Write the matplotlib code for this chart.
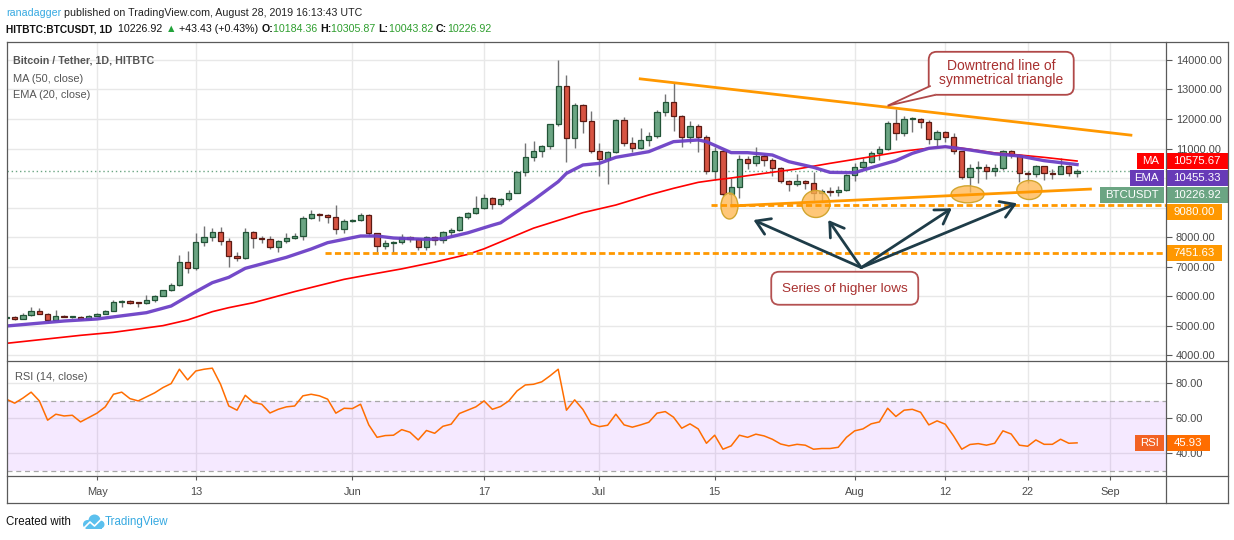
import matplotlib
matplotlib.use('Agg')
import matplotlib.pyplot as plt
import matplotlib.dates as mdates
from matplotlib.patches import Ellipse, FancyBboxPatch, Polygon, FancyArrowPatch, Rectangle, Circle
import numpy as np
import pandas as pd

plt.rcParams['font.family'] = ['Liberation Sans', 'DejaVu Sans']

# ---------------- data ----------------
dates = pd.date_range('2019-04-20', '2019-08-28', freq='D')
open_ = [5260, 5288, 5232, 5345, 5480, 5401, 5198, 5311, 5295, 5305, 5232,
         5322, 5390, 5491, 5785, 5819, 5774, 5751, 5853, 6000, 6203, 6361, 7142, 6960, 7819, 8011, 8181, 7876, 7356, 7277,
         8158, 7955, 7921, 7650, 7853, 7955, 8023, 8633, 8780, 8746, 8667, 8260,
         8554, 8576, 8746, 8124, 7684, 7785, 7819, 7989, 7921, 7650, 7989, 7887, 8158, 8226, 8667, 8825, 8972, 9311, 9108, 9277,
         9503, 10192, 10723, 10904, 11085, 11819, 13119, 11345, 12475, 11944,
         10915, 10633, 10870, 11966, 11175, 11006, 11288, 11424, 12248, 12565, 12113, 11379, 11774, 11401, 10238, 10915, 9446, 9684,
         10633, 10520, 10746, 10610, 10350, 9887, 9797, 9887, 9842, 9480, 9548, 9514, 9593,
         10102, 10384, 10531, 10836, 10972, 11853, 11514, 11989, 11999, 11887, 11311, 11548, 11401, 10915, 10046, 10328, 10384, 10249,
         10339, 10926, 10780, 10158, 10136, 10407, 10158, 10140, 10407, 10184.36]
high = [5300, 5310, 5420, 5627, 5600, 5440, 5520, 5340, 5330, 5330, 5350,
        5420, 5530, 5870, 5880, 5850, 5790, 6020, 6020, 6220, 6430, 7400, 7525, 8135, 8373, 8290, 8339, 7950, 7480, 8320,
        8200, 8050, 8020, 7900, 8140, 8120, 8720, 8920, 8830, 8790, 9085, 8620,
        8620, 8800, 8790, 8130, 7900, 7870, 8100, 8050, 7950, 8050, 8030, 8220, 8320, 8700, 8860, 9390, 9450, 9340, 9320, 9580,
        10230, 11175, 11250, 11130, 11820, 13999, 13492, 12554, 12500, 12271,
        11180, 10900, 12010, 12080, 11380, 11684, 11570, 12320, 12836, 13209, 12150, 11930, 11830, 11470, 11050, 11000, 9989, 10780,
        10740, 11060, 10800, 10680, 10360, 9940, 10140, 9920, 10215, 9620, 9700, 9720, 10120,
        10500, 10680, 10930, 11090, 11930, 12328, 12100, 12080, 12050, 11960, 11620, 11600, 11520, 10930, 10480, 10577, 10460,
        10480, 10950, 10950, 10800, 10250, 10450, 10420, 10320, 10667, 10440, 10305.87]
low = [5230, 5200, 5220, 5330, 5380, 5120, 5180, 5280, 5270, 5200, 5220,
       5310, 5380, 5480, 5640, 5740, 5620, 5740, 5780, 5990, 6180, 6350, 6790, 6880, 7706, 7860, 7730, 6970, 7200, 7250,
       7616, 7800, 7600, 7500, 7800, 7930, 7900, 8600, 8550, 8460, 8090, 8150,
       8500, 8540, 8050, 7500, 7600, 7460, 7750, 7830, 7560, 7560, 7740, 7810, 8050, 8200, 8600, 8780, 8960, 8960, 9060, 9230,
       9500, 10080, 10560, 10700, 11000, 11763, 10554, 11028, 11537, 10836,
       10079, 9785, 10840, 11100, 10880, 10990, 11100, 11360, 12100, 11605, 11040, 11180, 10893, 10150, 9932, 9380, 9085, 9311,
       10300, 10400, 10400, 10080, 9830, 9570, 9740, 9640, 9250, 9198, 9400, 9400, 9560,
       9900, 10320, 10500, 10600, 10950, 11288, 11440, 11570, 11680, 11150, 11100, 11230, 10800, 9950, 9540, 9820, 9980,
       10080, 10260, 10670, 9860, 9820, 10050, 9920, 9980, 10120, 10080, 10043.82]
close = [5275, 5232, 5345, 5480, 5401, 5198, 5311, 5300, 5305, 5232, 5322,
         5390, 5491, 5785, 5819, 5774, 5751, 5853, 6000, 6203, 6361, 7142, 6960, 7819, 8011, 8181, 7876, 7356, 7277, 8158,
         7955, 7921, 7650, 7853, 7955, 8023, 8633, 8780, 8746, 8667, 8260, 8554,
         8576, 8746, 8124, 7684, 7785, 7819, 7989, 7921, 7650, 7989, 7887, 8158, 8226, 8667, 8825, 8972, 9311, 9108, 9277, 9503,
         10192, 10723, 10904, 11085, 11819, 13119, 11345, 12475, 11944, 10915,
         10633, 10870, 11966, 11175, 11006, 11288, 11424, 12248, 12565, 12113, 11379, 11774, 11401, 10238, 10915, 9446, 9684, 10633,
         10520, 10746, 10610, 10350, 9887, 9797, 9887, 9842, 9480, 9548, 9514, 9593, 10102,
         10384, 10531, 10836, 10972, 11853, 11514, 11989, 11999, 11887, 11311, 11548, 11401, 10915, 10046, 10328, 10384, 10249,
         10339, 10926, 10780, 10158, 10136, 10407, 10158, 10140, 10407, 10181, 10226.92]

ma_dates = ['2019-04-20', '2019-04-29', '2019-05-03', '2019-05-09', '2019-05-12', '2019-05-15', '2019-05-17',
            '2019-05-20', '2019-05-25', '2019-05-31', '2019-06-03', '2019-06-07', '2019-06-11', '2019-06-15',
            '2019-06-17', '2019-06-20', '2019-06-23', '2019-06-29', '2019-07-03', '2019-07-07', '2019-07-10',
            '2019-07-13', '2019-07-15', '2019-07-17', '2019-07-21', '2019-07-25', '2019-07-29', '2019-08-03',
            '2019-08-07', '2019-08-11', '2019-08-13', '2019-08-15', '2019-08-18', '2019-08-21', '2019-08-24',
            '2019-08-28']
ma_vals = [4396, 4667, 4769, 4995, 5187, 5469, 5605, 5774, 6150, 6565, 6720, 6920, 7150, 7410, 7600, 7950,
           8300, 8825, 9085, 9424, 9650, 9853, 9932, 10000, 10158, 10305, 10497, 10723, 10915, 11040, 11050,
           10972, 10850, 10780, 10700, 10575.67]

ema_dates = ['2019-04-20', '2019-04-27', '2019-05-01', '2019-05-07', '2019-05-10', '2019-05-13', '2019-05-15',
             '2019-05-17', '2019-05-19', '2019-05-24', '2019-05-27', '2019-05-29', '2019-06-02', '2019-06-04',
             '2019-06-06', '2019-06-10', '2019-06-12', '2019-06-15', '2019-06-18', '2019-06-19', '2019-06-23',
             '2019-06-26', '2019-06-27', '2019-06-29', '2019-07-01', '2019-07-03', '2019-07-07', '2019-07-09',
             '2019-07-10', '2019-07-13', '2019-07-14', '2019-07-17', '2019-07-19', '2019-07-22', '2019-07-24',
             '2019-07-27', '2019-07-29', '2019-08-01', '2019-08-03', '2019-08-06', '2019-08-08', '2019-08-10',
             '2019-08-12', '2019-08-15', '2019-08-18', '2019-08-21', '2019-08-24', '2019-08-28']
ema_vals = [4983, 5153, 5221, 5435, 5661, 6147, 6452, 6633, 6938, 7311, 7593, 7808, 8034, 8034, 7966, 7921,
            7943, 8140, 8400, 8480, 9255, 9876, 10158, 10441, 10497, 10701, 10893, 11119, 11232, 11290, 11232,
            10860, 10859, 10780, 10554, 10362, 10192, 10181, 10350, 10588, 10836, 11006, 11062, 10949, 10820,
            10746, 10588, 10455.33]

rsi = [70.9, 68.6, 71.5, 74.9, 69.9, 58.9, 62.3, 61.3, 61.7, 57.9, 60.4,
       62.9, 66.5, 73.7, 74.9, 71.2, 69.9, 72.2, 74.5, 77.5, 79.8, 88.0, 81.9, 87.0, 88.0, 88.6, 79.4, 67.0, 64.6, 73.1, 69.0,
       68.0, 63.0, 65.1, 66.5, 67.0, 72.8, 73.7, 72.8, 70.9, 62.9, 65.7,
       65.5, 68.0, 56.2, 49.1, 50.1, 50.3, 53.5, 52.0, 47.6, 53.0, 51.4, 55.4, 56.6, 62.7, 64.6, 66.5, 69.9, 65.1, 66.7, 69.9,
       75.6, 79.0, 79.4, 80.8, 84.2, 88.0, 64.6, 70.5, 65.0, 56.8,
       55.2, 56.0, 62.3, 56.2, 54.9, 56.2, 57.7, 62.9, 63.8, 60.6, 54.3, 56.8, 53.9, 45.7, 50.3, 42.3, 44.2, 50.3, 49.1, 50.9,
       49.9, 48.0, 45.3, 44.2, 45.1, 44.6, 42.3, 42.7, 42.7, 43.4, 49.1,
       52.8, 53.9, 56.8, 57.9, 65.7, 61.0, 64.6, 65.1, 63.4, 56.2, 58.5, 56.6, 49.9, 42.3, 45.0, 45.5, 44.6, 45.7, 52.8, 51.0,
       44.6, 44.0, 47.6, 45.1, 45.1, 48.0, 45.7, 45.93]

level_values = [9080.00, 7451.63]
level_starts = ['2019-07-14 14:00', '2019-05-28 17:00']

tick_dates = ['2019-05-01', '2019-05-13', '2019-06-01', '2019-06-17', '2019-07-01', '2019-07-15',
              '2019-08-01', '2019-08-12', '2019-08-22', '2019-09-01']
tick_labels = ['May', '13', 'Jun', '17', 'Jul', '15', 'Aug', '12', '22', 'Sep']
price_ticks = [4000, 5000, 6000, 7000, 8000, 9000, 10000, 11000, 12000, 13000, 14000]
rsi_ticks = [40, 60, 80]

upper_line = [('2019-07-05 19:00', 13366), ('2019-09-03 17:00', 11447)]
lower_line = [('2019-07-16 22:00', 9051), ('2019-08-29 19:00', 9627)]
ellipse_pts = [('2019-07-16 19:00', 9051, 2.06, 881), ('2019-07-27 07:00', 9119, 3.4, 915),
               ('2019-08-14 17:00', 9447, 4.0, 576), ('2019-08-22 05:00', 9593, 3.04, 644)]
arrow_tail = ('2019-08-01 19:00', 6963)
arrow_heads = [('2019-07-19 17:00', 8576), ('2019-07-28 19:00', 8576),
               ('2019-08-12 19:00', 8973), ('2019-08-20 17:00', 9142)]
note_low = ('2019-07-30 19:00', 6263, 'Series of higher lows')
note_top = ('2019-08-18 19:00', 13549, 'Downtrend line of\nsymmetrical triangle')
note_top_tip = ('2019-08-05 00:00', 12451)

# ---------------- layout ----------------
W, H = 1234, 540
fig = plt.figure(figsize=(W / 100, H / 100), dpi=100)
fig.patch.set_facecolor('white')


def fx(x):
    return x / W


def fy(y):
    return 1 - y / H


PL, PR = 7, 1166
ax = fig.add_axes([fx(PL), fy(361), fx(PR) - fx(PL), fy(42) - fy(361)])
axr = fig.add_axes([fx(PL), fy(476), fx(PR) - fx(PL), fy(361) - fy(476)], sharex=ax)
ov = fig.add_axes([0, 0, 1, 1], zorder=10)
ov.set_xlim(0, W)
ov.set_ylim(H, 0)
ov.axis('off')
ov.patch.set_visible(False)

d2n = mdates.datestr2num
x = mdates.date2num(dates.to_pydatetime())
base = d2n('2019-05-01')
xmin, xmax = base - 10.93, base + 129.8

GRID = '#E8E8E8'
FRAME = '#5a5a5a'
TXT = '#4a4a4a'
UP, DN = '#6BA583', '#D75442'
UPE, DNE = '#225437', '#5B1A13'
TICKFS = 7.9

for a in (ax, axr):
    a.set_xlim(xmin, xmax)
    for s in a.spines.values():
        s.set_visible(False)
    a.set_xticks([d2n(t) for t in tick_dates])
    a.grid(True, color=GRID, lw=1, zorder=0)
    a.set_axisbelow(True)
    a.yaxis.tick_right()
    a.tick_params(axis='y', direction='out', length=4, width=0.8, color=FRAME, pad=3,
                  labelsize=TICKFS, labelcolor=TXT)

# price panel
ax.set_ylim(3797, 14610)
ax.set_yticks(price_ticks)
ax.tick_params(axis='x', length=0, labelbottom=False)

o = np.array(open_, float)
c = np.array(close, float)
hi = np.array(high, float)
lo = np.array(low, float)
up = c >= o
ax.vlines(x, lo, hi, color='#737375', lw=1, zorder=3)
body_h = np.maximum(np.abs(c - o), 30)
ax.bar(x, body_h, bottom=np.minimum(o, c), width=0.64,
       color=np.where(up, UP, DN), edgecolor=np.where(up, UPE, DNE), linewidth=0.9, zorder=4)

ax.plot([d2n(d) for d in ma_dates], ma_vals, color='#FF0000', lw=1.2, zorder=5)
ax.plot([d2n(d) for d in ema_dates], ema_vals, color='#6C40C6', lw=2.4, zorder=5, alpha=0.95)
ax.axhline(close[-1], color=UP, ls=(0, (1, 2)), lw=1, zorder=2)

for d, pv, wd, ht in ellipse_pts:
    ax.add_patch(Ellipse((d2n(d), pv), wd, ht, fc=(1.0, 0.72, 0.32, 0.78), ec='#D1A52E', lw=1, zorder=6))

for lv, st in zip(level_values, level_starts):
    ax.hlines(lv, d2n(st), xmax, colors='#FF9800', linestyles=(0, (2.2, 1.2)), lw=2, zorder=7)

ax.plot([d2n(p[0]) for p in upper_line], [p[1] for p in upper_line], color='#FF9800', lw=2, zorder=7,
        solid_capstyle='butt')
ax.plot([d2n(p[0]) for p in lower_line], [p[1] for p in lower_line], color='#FF9800', lw=2, zorder=7,
        solid_capstyle='butt')

for d, pv in arrow_heads:
    ax.add_patch(FancyArrowPatch((d2n(arrow_tail[0]), arrow_tail[1]), (d2n(d), pv),
                                 arrowstyle='->,head_length=0.6,head_width=0.38', mutation_scale=16,
                                 color='#1E3C48', lw=2, zorder=8, shrinkA=0, shrinkB=0))

# RSI panel
axr.set_ylim(27, 92.7)
axr.set_yticks(rsi_ticks)
axr.set_yticklabels(['%.2f' % v for v in rsi_ticks])
axr.axhspan(30, 70, color='#9915FF', alpha=0.09, lw=0, zorder=1)
axr.axhline(70, color='#A8A8A8', ls=(0, (4, 3)), lw=0.9, zorder=2)
axr.axhline(30, color='#A8A8A8', ls=(0, (4, 3)), lw=0.9, zorder=2)
axr.plot(x, rsi, color='#FF6D00', lw=1.1, zorder=4)
axr.set_xticklabels(tick_labels)
axr.tick_params(axis='x', direction='out', length=3, width=0.8, color=FRAME, pad=5,
                labelsize=TICKFS, labelcolor=TXT)

# ---------------- frame (pixel overlay) ----------------
for y0 in (42, 361, 476, 503):
    ov.plot([7, 1228], [y0, y0], color=FRAME, lw=0.9)
for x0 in (7, 1166, 1228):
    ov.plot([x0, x0], [42, 503], color=FRAME, lw=0.9)

renderer = fig.canvas.get_renderer()


def to_pix(a, xd, yd):
    px, py = a.transData.transform((xd, yd))
    return px, H - py


# callouts
cx, cy = to_pix(ax, d2n(note_low[0]), note_low[1])
bw, bh = 147, 33
ov.add_patch(FancyBboxPatch((cx - bw / 2, cy - bh / 2), bw, bh, boxstyle='round,pad=0,rounding_size=8',
                            fc='white', ec='#B04848', lw=1.3, alpha=0.95))
ov.text(cx, cy + 0.5, note_low[2], ha='center', va='center', fontsize=9.7, color='#A8302F')

cx, cy = to_pix(ax, d2n(note_top[0]), note_top[1])
bw, bh = 145, 43
ov.add_patch(FancyBboxPatch((cx - bw / 2, cy - bh / 2), bw, bh, boxstyle='round,pad=0,rounding_size=8',
                            fc='white', ec='#B04848', lw=1.3))
tx, ty = to_pix(ax, d2n(note_top_tip[0]), note_top_tip[1])
bl = cx - bw / 2
ov.add_patch(Polygon([(bl + 2, cy + bh / 2 - 9), (tx, ty), (bl + 7, cy + bh / 2)], closed=False,
                     fc='white', ec='#B04848', lw=1.3, zorder=3))
ov.text(cx, cy, note_top[2], ha='center', va='center', fontsize=10.0, color='#A8302F',
        linespacing=1.0, zorder=4)

# right price tags
TAG_H = 16.5


def tag(yc, name, value, color, namecolor=None):
    if name:
        t = ov.text(0, 0, name, fontsize=8.2, color='white', ha='center', va='center', zorder=2)
        nw = t.get_window_extent(renderer).width + 10
        t.set_position((1164 - nw / 2, yc))
        ov.add_patch(Rectangle((1164 - nw, yc - TAG_H / 2), nw, TAG_H, fc=namecolor or color, ec='none', zorder=1))
    t2 = ov.text(0, 0, value, fontsize=8.2, color='white', ha='center', va='center', zorder=2)
    w2 = t2.get_window_extent(renderer).width + 15
    t2.set_position((1166 + w2 / 2, yc))
    ov.add_patch(Rectangle((1166, yc - TAG_H / 2), w2, TAG_H, fc=color, ec='none', zorder=1))


tags = [(ma_vals[-1], 'MA', '#FF0000'), (ema_vals[-1], 'EMA', '#673AB7'),
        (close[-1], 'BTCUSDT', '#6BA583'), (level_values[0], '', '#FF9800'), (level_values[1], '', '#FF9800')]
tags.sort(key=lambda t: -t[0])
prev = -1e9
tag_y = []
for v, nm, col in tags:
    yc = max(to_pix(ax, xmin, v)[1], prev + 17)
    prev = yc
    tag_y.append(yc)
    tag(yc, nm, '%.2f' % v, col)

# price tick labels hidden where a tag sits on top of them (as in the source)
plabels = []
for pt in price_ticks:
    py = to_pix(ax, xmin, pt)[1]
    covered = any(abs(py - ty0) < TAG_H / 2 + 1 for ty0 in tag_y)
    plabels.append('' if covered else '%.2f' % pt)
ax.set_yticklabels(plabels)

yc = to_pix(axr, xmin, rsi[-1])[1]
tag(yc, 'RSI', '%.2f' % rsi[-1], '#FF6D00', namecolor='#F26223')

# panel legends
ov.text(13, 60.5, 'Bitcoin / Tether, 1D, HITBTC', fontsize=7.7, color='#555555', fontweight='bold', va='center')
ov.text(13, 78.5, 'MA (50, close)', fontsize=7.9, color='#555555', va='center')
ov.text(13, 94.5, 'EMA (20, close)', fontsize=7.9, color='#555555', va='center')
ov.text(15, 377, 'RSI (14, close)', fontsize=7.9, color='#555555', va='center')


# header
def seq(x0, y0, pieces):
    xx = x0
    for s, kw in pieces:
        t = ov.text(xx, y0, s, va='center', ha='left', **kw)
        xx += t.get_window_extent(renderer).width


HS = 7.7
GREEN = '#2E9E2E'
seq(6, 13.5, [('ranadagger', dict(fontsize=HS, color='#36A9E1')),
              (' published on TradingView.com, August 28, 2019 16:13:43 UTC', dict(fontsize=HS, color='#222222'))])
seq(6, 29.5, [('HITBTC:BTCUSDT, 1D', dict(fontsize=7.3, color='#111111', fontweight='bold')),
              ('  10226.92 ', dict(fontsize=HS, color='#111111')),
              ('\u25b2', dict(fontsize=HS, color='#22A33A')),
              (' +43.43 (+0.43%) ', dict(fontsize=HS, color='#111111')),
              ('O:', dict(fontsize=HS, color='#111111', fontweight='bold')),
              ('10184.36 ', dict(fontsize=HS, color=GREEN)),
              ('H:', dict(fontsize=HS, color='#111111', fontweight='bold')),
              ('10305.87 ', dict(fontsize=HS, color=GREEN)),
              ('L:', dict(fontsize=HS, color='#111111', fontweight='bold')),
              ('10043.82 ', dict(fontsize=HS, color=GREEN)),
              ('C:', dict(fontsize=HS, color='#111111', fontweight='bold')),
              ('10226.92', dict(fontsize=HS, color=GREEN))])

# footer
ov.text(6, 522, 'Created with', fontsize=8.3, color='#111111', va='center')
for (cx0, cy0, r) in [(87.5, 524.5, 4.5), (94.5, 520.5, 6.0), (100.5, 524.5, 4.0)]:
    ov.add_patch(Circle((cx0, cy0), r, fc='#5BC0EE', ec='none'))
ov.add_patch(Rectangle((86, 523), 16, 6, fc='#5BC0EE', ec='none'))
ov.plot([84, 90, 94.5, 101], [528, 522, 526, 519.5], color='white', lw=1.2)
ov.text(105, 522, 'TradingView', fontsize=8.3, color='#36A9E1', va='center')

fig.savefig('out.png', dpi=100)
